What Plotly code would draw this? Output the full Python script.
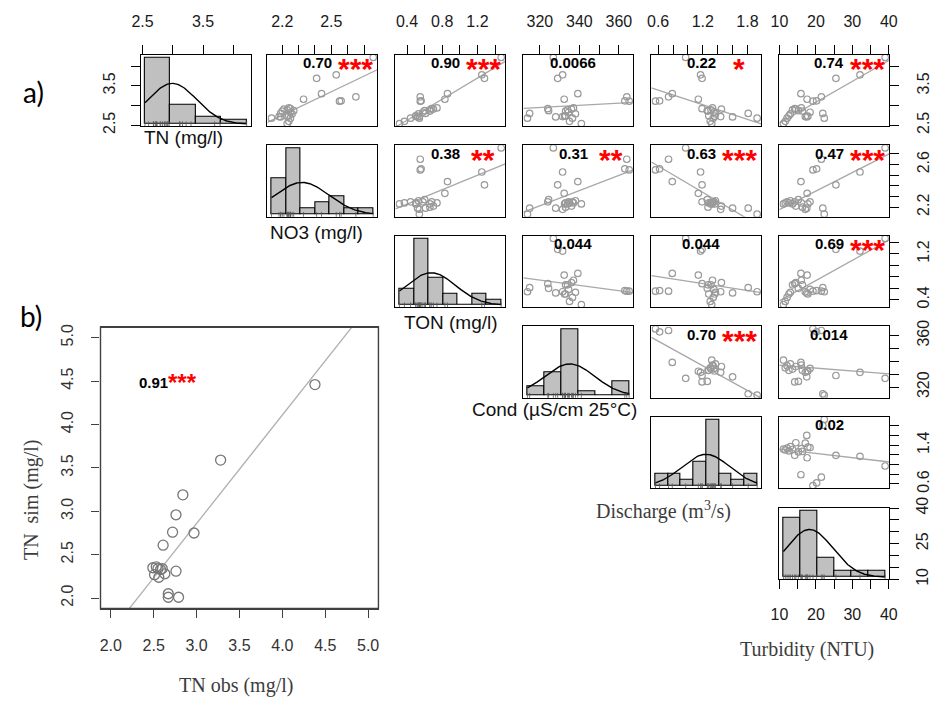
import numpy as np
import plotly.graph_objects as go

# ---------------- a) water-quality observations (25 sampling dates) ----------------
tn = [4.22, 3.78, 3.69, 3.30, 3.22, 3.16, 3.11, 3.12, 2.92, 2.71, 2.68, 2.80, 2.87,
      2.54, 2.60, 2.68, 2.74, 2.79, 2.89, 2.91, 2.86, 2.72, 2.73, 2.83, 2.94]
no3 = [2.756, 2.53, 2.41, 2.44, 2.65, 2.33, 2.55, 2.56, 2.25, 2.19, 2.134, 2.19, 2.27,
       2.23, 2.24, 2.25, 2.24, 2.26, 2.23, 2.21, 2.20, 2.18, 2.23, 2.25, 2.24]
ton = [1.47, 1.25, 1.28, 0.86, 0.55, 0.83, 0.55, 0.56, 0.68, 0.52, 0.54, 0.61, 0.60,
       0.314, 0.37, 0.44, 0.50, 0.53, 0.66, 0.70, 0.66, 0.54, 0.50, 0.58, 0.74]
cond = [326.8, 331.5, 329.0, 339.2, 364.0, 332.3, 365.2, 363.0, 324.0, 328.0, 313.7, 314.8, 324.4,
        341.0, 335.0, 336.5, 333.0, 338.0, 334.0, 336.0, 333.0, 331.5, 332.5, 334.5, 337.0]
discharge = [0.97, 1.17, 1.19, 0.79, 0.74, 1.14, 0.564, 0.62, 1.19, 1.60, 1.93, 1.81, 1.26,
             1.32, 1.30, 1.34, 1.28, 1.37, 1.31, 1.45, 1.27, 1.44, 1.36, 1.35, 1.33]
turbidity = [39.0, 32.1, 25.5, 15.9, 21.5, 17.6, 19.2, 20.2, 14.2, 17.5, 22.3, 21.9, 15.2,
             11.1, 11.6, 12.1, 12.6, 13.0, 13.6, 14.5, 16.3, 17.1, 17.8, 18.4, 16.0]

variables = [tn, no3, ton, cond, discharge, turbidity]
var_labels = ["TN (mg/l)", "NO3 (mg/l)", "TON (mg/l)", "Cond (µS/cm 25°C)",
              "Discharge (m<sup>3</sup>/s)", "Turbidity (NTU)"]
hist_bins = [4, 7, 7, 6, 8, 6]

tick_values = [
    [2.5, 3.0, 3.5, 4.0],
    [2.2, 2.3, 2.4, 2.5, 2.6, 2.7],
    [0.4, 0.6, 0.8, 1.0, 1.2, 1.4],
    [320, 330, 340, 350, 360],
    [0.6, 0.8, 1.0, 1.2, 1.4, 1.6, 1.8],
    [10, 15, 20, 25, 30, 35, 40],
]
top_tick_labels = [[2.5, 3.5], [2.2, 2.5], [0.4, 0.8, 1.2], [320, 340, 360], [0.6, 1.2, 1.8], [10, 20, 30, 40]]
right_tick_labels = [[2.5, 3.5], [2.2, 2.6], [0.4, 1.2], [320, 360], [0.6, 1.4], [10, 25, 40]]
left_tick_labels_tn = [2.5, 3.5]
bottom_tick_labels_turb = [10, 20, 30, 40]

# upper-triangle panels, row by row: (0,1) (0,2) ... (4,5)
upper_r2 = ["0.70", "0.90", "0.0066", "0.22", "0.74",
            "0.38", "0.31", "0.63", "0.47",
            "0.044", "0.044", "0.69",
            "0.70", "0.014",
            "0.02"]
upper_stars = ["***", "***", "", "*", "***",
               "**", "**", "***", "***",
               "", "", "***",
               "***", "",
               ""]

# ---------------- b) observed vs simulated TN ----------------
tn_obs = [4.38, 3.28, 2.84, 2.76, 2.72, 2.97, 2.61, 2.49, 2.53, 2.55, 2.58, 2.60,
          2.51, 2.56, 2.63, 2.76, 2.67, 2.67, 2.79]
tn_sim = [4.46, 3.59, 3.19, 2.96, 2.76, 2.75, 2.61, 2.35, 2.36, 2.34, 2.33, 2.34,
          2.27, 2.24, 2.28, 2.31, 2.05, 2.01, 2.01]
b_r2 = "0.91"
b_stars = "***"
b_ticks = [2.0, 2.5, 3.0, 3.5, 4.0, 4.5, 5.0]

# ---------------- geometry ----------------
W, H = 934, 708
COL_LEFT = [134.5, 263.5, 394.0, 524.5, 655.0, 785.5]
ROW_TOP = [45.0, 138.0, 231.0, 324.0, 417.0, 510.5]
PW, PH = 112.0, 73.5
B_BOX = (93.3, 325.0, 376.7, 614.0)  # left, top, right, bottom in px
B_RANGE = [1.88, 5.12]

SANS = "Liberation Sans, Arial, sans-serif"
SERIF = "Liberation Serif, Times New Roman, serif"


def fx(p):
    return p / W


def fy(p):
    return 1 - p / H


def ext_range(v):
    lo, hi = min(v), max(v)
    r = hi - lo
    return [lo - 0.04 * r, hi + 0.04 * r]


def fmt(v):
    return f"{v:g}"


fig = go.Figure()
layout_axes = {}
counter = [0]


def add_axes(xdom, ydom, xr, yr, xopts=None, yopts=None, frame="black"):
    counter[0] += 1
    k = counter[0]
    s = "" if k == 1 else str(k)
    base = dict(showgrid=False, zeroline=False, showline=True, mirror=True,
                linecolor=frame, linewidth=1.2, ticks="", showticklabels=False,
                fixedrange=True)
    xa = dict(base, range=xr, domain=xdom, anchor="y" + s)
    ya = dict(base, range=yr, domain=ydom, anchor="x" + s)
    if xopts:
        xa.update(xopts)
    if yopts:
        ya.update(yopts)
    layout_axes["xaxis" + s] = xa
    layout_axes["yaxis" + s] = ya
    return "x" + s, "y" + s


def tick_opts(vals, labeled, side, angle=0, standoff=4, ticklen=9):
    text = [fmt(v) if any(abs(v - l) < 1e-9 for l in labeled) else " " for v in vals]
    return dict(side=side, ticks="outside", ticklen=ticklen, tickwidth=1.1, tickcolor="black",
                tickmode="array", tickvals=vals, ticktext=text, showticklabels=True,
                tickfont=dict(family=SANS, size=16, color="#1a1a1a"),
                tickangle=angle, ticklabelstandoff=standoff)


annotations = []
shapes = []
ranges = [ext_range(v) for v in variables]
nvar = len(variables)
k_upper = 0

for i in range(nvar):
    for j in range(i, nvar):
        xdom = [fx(COL_LEFT[j]), fx(COL_LEFT[j] + PW)]
        ydom = [fy(ROW_TOP[i] + PH), fy(ROW_TOP[i])]
        xopts = {}
        yopts = {}
        if i == 0:
            xopts = tick_opts(tick_values[j], top_tick_labels[j], "top", standoff=11)
        if j == nvar - 1 and i != j:
            yopts = tick_opts(tick_values[i], right_tick_labels[i], "right", angle=-90, standoff=10)
        if i == j == nvar - 1:
            xopts = tick_opts(tick_values[j], bottom_tick_labels_turb, "bottom", standoff=11)

        if i == j:
            v = np.array(variables[i], dtype=float)
            dens, edges = np.histogram(v, bins=hist_bins[i], range=(v.min(), v.max()), density=True)
            m = dens.max()
            xa, ya = add_axes(xdom, ydom, ranges[j], [-0.0324 * m, 1.049 * m], xopts, yopts)
            centers = 0.5 * (edges[:-1] + edges[1:])
            fig.add_trace(go.Bar(x=centers, y=dens, width=np.diff(edges), xaxis=xa, yaxis=ya,
                                 marker=dict(color="#c0c0c0", line=dict(color="black", width=1.1)),
                                 showlegend=False, hoverinfo="skip"))
            mu, sd = v.mean(), v.std(ddof=1)
            xs = np.linspace(v.min(), v.max(), 150)
            ys = np.exp(-0.5 * ((xs - mu) / sd) ** 2) / (sd * np.sqrt(2 * np.pi))
            fig.add_trace(go.Scatter(x=xs, y=ys, mode="lines", xaxis=xa, yaxis=ya,
                                     line=dict(color="black", width=1.4),
                                     showlegend=False, hoverinfo="skip"))
            # rug of observations along the base of the histogram
            fig.add_trace(go.Scatter(x=v, y=np.zeros_like(v), mode="markers", xaxis=xa, yaxis=ya,
                                     marker=dict(symbol="line-ns-open", size=4, color="#555555",
                                                 line=dict(width=0.8, color="#555555")),
                                     showlegend=False, hoverinfo="skip"))
            # variable name under the diagonal panel
            if i <= 3:
                lab_pos = [(177.5, 130), (313.5, 228), (451, 320), (556, 410)][i]
                annotations.append(dict(x=fx(lab_pos[0]), y=fy(lab_pos[1]), xref="paper", yref="paper",
                                        text=var_labels[i], showarrow=False, xanchor="center",
                                        yanchor="middle", font=dict(family=SANS, size=19, color="#111111")))
            else:
                lab_pos = [(667, 513), (814, 656)][i - 4]
                annotations.append(dict(x=fx(lab_pos[0]), y=fy(lab_pos[1]), xref="paper", yref="paper",
                                        text=var_labels[i], showarrow=False, xanchor="center",
                                        yanchor="middle", font=dict(family=SERIF, size=20, color="#3c3c3c")))
        else:
            xv = np.array(variables[j], dtype=float)
            yv = np.array(variables[i], dtype=float)
            xa, ya = add_axes(xdom, ydom, ranges[j], ranges[i], xopts, yopts)
            slope, icpt = np.polyfit(xv, yv, 1)
            lx = np.array(ranges[j])
            fig.add_trace(go.Scatter(x=lx, y=slope * lx + icpt, mode="lines", xaxis=xa, yaxis=ya,
                                     line=dict(color="#a8a8a8", width=1.3),
                                     showlegend=False, hoverinfo="skip"))
            fig.add_trace(go.Scatter(x=xv, y=yv, mode="markers", xaxis=xa, yaxis=ya,
                                     marker=dict(symbol="circle-open", size=6.5, color="#9a9a9a",
                                                 line=dict(width=1.2, color="#9a9a9a")),
                                     showlegend=False, hoverinfo="skip"))
            annotations.append(dict(x=fx(COL_LEFT[j] + 0.455 * PW), y=fy(ROW_TOP[i] + 8),
                                    xref="paper", yref="paper", text="<b>%s</b>" % upper_r2[k_upper],
                                    showarrow=False, xanchor="center", yanchor="middle",
                                    font=dict(family=SANS, size=15, color="black")))
            if upper_stars[k_upper]:
                annotations.append(dict(x=fx(COL_LEFT[j] + 0.80 * PW), y=fy(ROW_TOP[i] + 14.5),
                                        xref="paper", yref="paper", text="<b>%s</b>" % upper_stars[k_upper],
                                        showarrow=False, xanchor="center", yanchor="middle",
                                        font=dict(family=SANS, size=30, color="#ff0000")))
            k_upper += 1

# extra axes: TN scale on the left of the first histogram, turbidity scale on the right of the last
for row, col, vals, labs, side in [(0, 0, tick_values[0], left_tick_labels_tn, "left"),
                                   (5, 5, tick_values[5], right_tick_labels[5], "right")]:
    xdom = [fx(COL_LEFT[col]), fx(COL_LEFT[col] + PW)]
    ydom = [fy(ROW_TOP[row] + PH), fy(ROW_TOP[row])]
    yo = tick_opts(vals, labs, side, angle=-90, standoff=10)
    yo.update(showline=False, mirror=False)
    xa, ya = add_axes(xdom, ydom, ranges[col], ranges[row], dict(visible=False), yo)
    fig.add_trace(go.Scatter(x=[None], y=[None], mode="markers", xaxis=xa, yaxis=ya,
                             showlegend=False, hoverinfo="skip"))

# ---------------- b) panel ----------------
b_tick = dict(ticks="outside", ticklen=8, tickwidth=1.2, tickcolor="#404040", tickmode="array",
              tickvals=b_ticks, ticktext=["%.1f" % t for t in b_ticks], showticklabels=True,
              tickfont=dict(family=SANS, size=16, color="#333333"))
bx = dict(b_tick, side="bottom", ticklabelstandoff=14)
by = dict(b_tick, side="left", tickangle=-90, ticklabelstandoff=12)
bl, bt, br, bb = B_BOX
xa, ya = add_axes([fx(bl), fx(br)], [fy(bb), fy(bt)], B_RANGE, B_RANGE, bx, by, frame="#404040")
shapes.append(dict(type="rect", xref="paper", yref="paper", x0=fx(bl), x1=fx(br), y0=fy(bb), y1=fy(bt),
                   line=dict(color="#404040", width=1.4), fillcolor="rgba(0,0,0,0)", layer="above"))
bo = np.array(tn_obs)
bs = np.array(tn_sim)
slope, icpt = np.polyfit(bo, bs, 1)
lx = np.array(B_RANGE)
fig.add_trace(go.Scatter(x=lx, y=slope * lx + icpt, mode="lines", xaxis=xa, yaxis=ya,
                         line=dict(color="#b0b0b0", width=1.3), showlegend=False, hoverinfo="skip"))
fig.add_trace(go.Scatter(x=bo, y=bs, mode="markers", xaxis=xa, yaxis=ya,
                         marker=dict(symbol="circle-open", size=10, color="#777777",
                                     line=dict(width=1.3, color="#777777")),
                         showlegend=False, hoverinfo="skip"))
annotations += [
    dict(x=fx(147.5), y=fy(382), xref="paper", yref="paper", text="<b>%s</b>" % b_r2, showarrow=False,
         xanchor="center", yanchor="middle", font=dict(family=SANS, size=15, color="black")),
    dict(x=fx(177), y=fy(382), xref="paper", yref="paper", text="<b>%s</b>" % b_stars, showarrow=False,
         xanchor="center", yanchor="middle", font=dict(family=SANS, size=24, color="#ff0000")),
    dict(x=fx(231.5), y=fy(693), xref="paper", yref="paper", text="TN obs (mg/l)", showarrow=False,
         xanchor="center", yanchor="middle", font=dict(family=SERIF, size=20, color="#3c3c3c")),
    dict(x=fx(23), y=fy(502), xref="paper", yref="paper", text="TN  sim (mg/l)", showarrow=False,
         xanchor="center", yanchor="middle", textangle=-90,
         font=dict(family=SERIF, size=20, color="#3c3c3c")),
    dict(x=fx(25), y=fy(83), xref="paper", yref="paper", text="a)", showarrow=False,
         xanchor="center", yanchor="middle", font=dict(family="Lato, Open Sans, sans-serif", size=28, color="black")),
    dict(x=fx(22), y=fy(313), xref="paper", yref="paper", text="b)", showarrow=False,
         xanchor="center", yanchor="middle", font=dict(family="Lato, Open Sans, sans-serif", size=28, color="black")),
]

fig.update_layout(width=W, height=H, margin=dict(l=0, r=0, t=0, b=0),
                  paper_bgcolor="white", plot_bgcolor="rgba(0,0,0,0)",
                  showlegend=False, annotations=annotations, shapes=shapes, bargap=0, **layout_axes)
fig.write_html("out.html", config=dict(displayModeBar=False))
